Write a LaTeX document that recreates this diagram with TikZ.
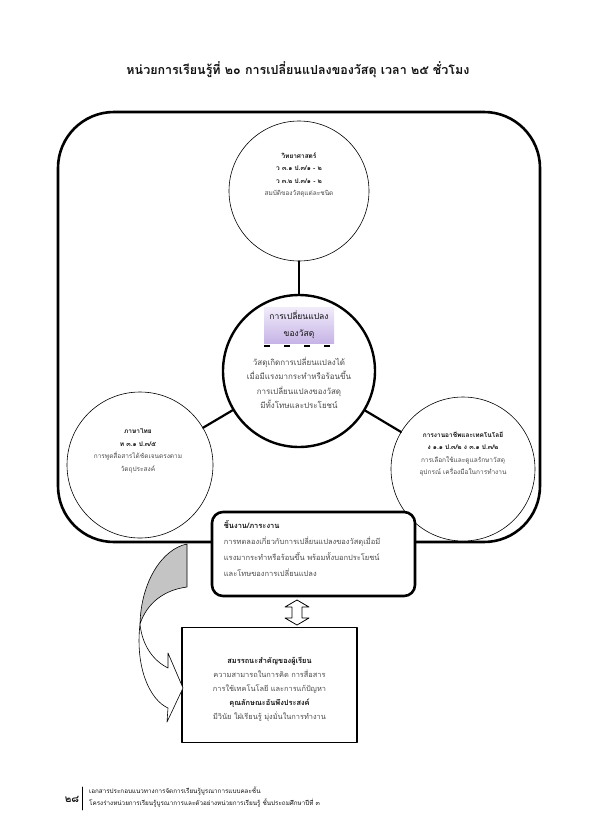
\documentclass[tikz,border=0pt]{standalone}
\usepackage{fontspec}
\usepackage{xcolor}
\usepackage{tikz}
\usetikzlibrary{calc,positioning}
\newfontfamily\thai[Script=Thai]{Loma}
\definecolor{ink}{HTML}{111111}
\definecolor{muted}{HTML}{4A4A4A}
\definecolor{lilacTop}{HTML}{F1ECFA}
\definecolor{lilacBot}{HTML}{C6B4E6}
\definecolor{fold}{HTML}{C4C4C4}
\tikzset{
  Bubble/.style={circle, draw=black, line width=0.6pt, fill=white,
    minimum size=#1, inner sep=0pt},
  Hub/.style={circle, draw=black, line width=2.4pt, fill=white,
    minimum size=#1, inner sep=0pt},
  Link/.style={draw=black, line width=2.2pt},
  Frame/.style={draw=black, line width=2.6pt, rounded corners=56pt},
  TaskBox/.style={draw=black, line width=2.6pt, rounded corners=11pt,
    fill=white, minimum width=203pt, minimum height=84pt, inner sep=0pt},
  SkillBox/.style={draw=black, line width=1.6pt, fill=white,
    minimum width=175pt, minimum height=115pt, inner sep=0pt},
  Blurb/.style={font=\thai\fontsize{6.5}{12.5}\selectfont, text=muted,
    align=center, inner sep=0pt},
  HubText/.style={font=\thai\fontsize{8}{14.5}\selectfont, text=muted,
    align=center, inner sep=0pt},
  Tab/.style={font=\thai\fontsize{8.5}{17}\selectfont, text=ink,
    top color=lilacTop, bottom color=lilacBot, align=center,
    minimum width=70pt, minimum height=36pt, inner sep=0pt},
  TaskText/.style={font=\thai\fontsize{7.5}{16}\selectfont, text=muted,
    align=left, inner sep=0pt},
  SkillText/.style={font=\thai\fontsize{7.4}{14}\selectfont, text=muted,
    align=center, inner sep=0pt},
  FootText/.style={font=\thai\fontsize{6.3}{12}\selectfont, text=ink,
    align=left, inner sep=0pt}
}
% bold black heading line inside a blurb
\newcommand{\Hd}[1]{\textcolor{ink}{\bfseries #1}}

\begin{document}
\begin{tikzpicture}[x=1pt, y=-1pt, line cap=round, line join=round]
  \useasboundingbox (0,0) rectangle (595,836);

  \node[font=\thai\bfseries\fontsize{12.5}{14}\selectfont, text=ink] (title) at (298,70)
    {หน่วยการเรียนรู้ที่ ๒๐ การเปลี่ยนแปลงของวัสดุ เวลา ๒๕ ชั่วโมง};

  % outer frame
  \draw[Frame] (58,112) rectangle (540,542);

  \coordinate (S) at (299,191);
  \coordinate (H) at (299,371);
  \coordinate (L) at (140,465);
  \coordinate (R) at (463,469);

  \node[Bubble=140pt] (sci) at (S) {};
  \node[Hub=152pt] (hub) at (H) {};
  \node[Bubble=146pt] (thai) at (L) {};
  \node[Bubble=144pt] (tech) at (R) {};

  \draw[Link] (sci) -- (hub);
  \draw[Link] (hub) -- (thai);
  \draw[Link] (hub) -- (tech);

  \node[Blurb] (scitxt) at ($(S)+(0,-16)$)
    {\Hd{วิทยาศาสตร์}\\\Hd{ว ๓.๑ ป.๓/๑ - ๒}\\\Hd{ว ๓.๒ ป.๓/๑ - ๒}\\สมบัติของวัสดุแต่ละชนิด};
  \node[Blurb] (thaitxt) at ($(L)+(-2,-14)$)
    {\Hd{ภาษาไทย}\\\Hd{ท ๓.๑ ป.๓/๕}\\การพูดสื่อสารได้ชัดเจนตรงตาม\\วัตถุประสงค์};
  \node[Blurb] (techtxt) at ($(R)+(0,-15)$)
    {\Hd{การงานอาชีพและเทคโนโลยี}\\\Hd{ง ๑.๑ ป.๓/๒ ง ๓.๑ ป.๓/๒}\\การเลือกใช้และดูแลรักษาวัสดุ\\อุปกรณ์ เครื่องมือในการทำงาน};

  \node[Tab] (tab) at ($(H)+(0,-46)$) {การเปลี่ยนแปลง\\ของวัสดุ};
  \foreach \dx in {-32,-12,8,28}
    \draw[line width=1.8pt, line cap=butt] ($(tab.south)+(\dx-3,3)$) -- ++(6,0);
  \node[HubText] (hubtxt) at ($(H)+(0,12)$)
    {วัสดุเกิดการเปลี่ยนแปลงได้\\เมื่อมีแรงมากระทำหรือร้อนขึ้น\\การเปลี่ยนแปลงของวัสดุ\\มีทั้งโทษและประโยชน์};

  % work piece
  \node[TaskBox] (task) at (313.5,554) {};
  \node[TaskText, anchor=north west] (tasktxt) at ($(task.north west)+(13,10)$)
    {\Hd{ชิ้นงาน/ภาระงาน}\\การทดลองเกี่ยวกับการเปลี่ยนแปลงของวัสดุเมื่อมี\\แรงมากระทำหรือร้อนขึ้น พร้อมทั้งบอกประโยชน์\\และโทษของการเปลี่ยนแปลง};

  % key competencies
  \node[SkillBox] (skill) at (269.5,685) {};
  \node[SkillText] (skilltxt) at ($(skill)+(0,4)$)
    {\Hd{สมรรถนะสำคัญของผู้เรียน}\\ความสามารถในการคิด การสื่อสาร\\การใช้เทคโนโลยี และการแก้ปัญหา\\\Hd{คุณลักษณะอันพึงประสงค์}\\มีวินัย ใฝ่เรียนรู้ มุ่งมั่นในการทำงาน};

  % two-way arrow between the boxes
  \coordinate (A) at (297,600);
  \draw[line width=0.8pt, fill=white] (A) -- ++(12,7) -- ++(-7,0) -- ++(0,11) -- ++(7,0)
    -- ++(-12,7) -- ++(-12,-7) -- ++(7,0) -- ++(0,-11) -- ++(-7,0) -- cycle;

  % curved arrow on the left
  \draw[line width=0.6pt, fill=fold] (187,544) .. controls (162,549) and (141,582) .. (140,624)
    .. controls (147,603) and (164,590) .. (187,587) -- cycle;
  \draw[line width=0.6pt, fill=white] (140,624) .. controls (135,668) and (150,700) .. (168,708)
    -- (167,722) -- (183,688) -- (168,653) -- (168,668)
    .. controls (152,660) and (142,644) .. (140,624) -- cycle;

  % footer
  \node[font=\thai\bfseries\fontsize{10}{12}\selectfont, text=ink] (page) at (72,799) {๒๘};
  \draw[line width=0.6pt] (82,787) -- (82,810);
  \node[FootText, anchor=west] (foot) at (89,797)
    {เอกสารประกอบแนวทางการจัดการเรียนรู้บูรณาการแบบคละชั้น\\โครงร่างหน่วยการเรียนรู้บูรณาการและตัวอย่างหน่วยการเรียนรู้ ชั้นประถมศึกษาปีที่ ๓};
\end{tikzpicture}
\end{document}
